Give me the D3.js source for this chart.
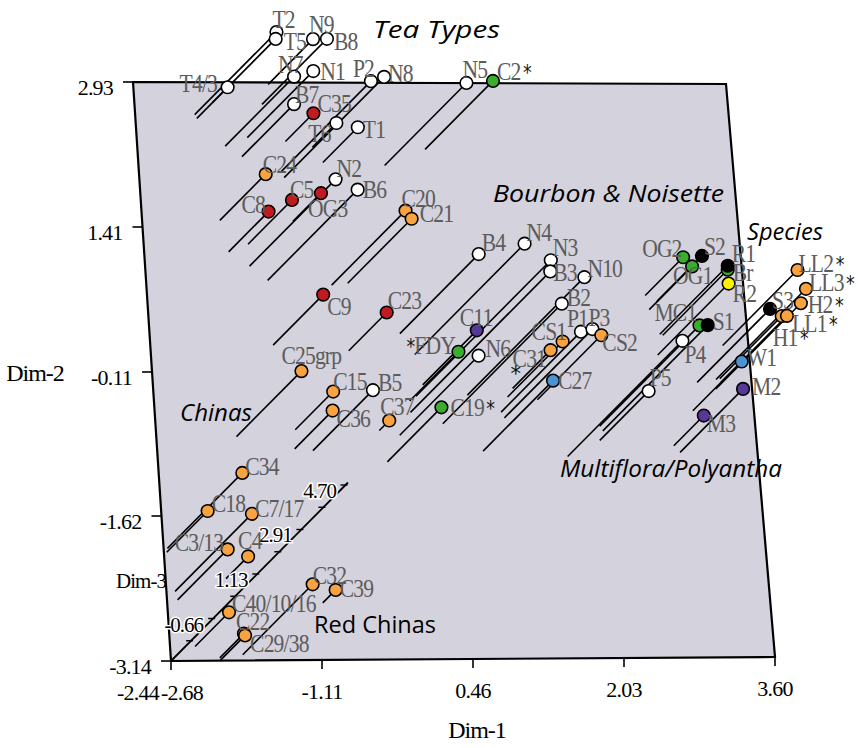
<!DOCTYPE html>
<html><head><meta charset="utf-8">
<script src="https://cdn.jsdelivr.net/npm/d3@7"></script>
<style>body{margin:0;background:#fff}</style>
</head><body><svg id="c" width="858" height="748"></svg>
<script>
// ---------------- data ----------------
const names = ["T2","T5","T4/3","N9","B8","N7","N1","P2","N8","N5","C2*","B7","C35","T6","T1",
 "C24","N2","B6","C5","OG3","C8","C20","C21","C9","C23","C25grp","C15","C36","B5","C37",
 "B4","N4","N3","B3","N10","B2","P1","P3","CS2","CS1","C31","C27","C11","*FDY","N6","C19*",
 "OG2","OG1","S2","Br","R1","R2","MC1","S1","P4","P5","S3","LL2*","LL3*","H2*","H1*","LL1*","W1","M2","M3",
 "C34","C18","C7/17","C3/13","C4","C32","C39","C40/10/16","C22","C29/38"];
const dim1 = [-2.05,-2.03,-1.85,-1.25,-1.33,-1.75,-1.51,-1.18,-1.15,-0.08,0.36,-1.58,-1.11,-0.83,-0.73,
 -1.86,-1.58,-1.40,-1.58,-1.09,-1.79,-0.73,-0.56,-1.39,-0.60,-1.84,-1.22,-1.24,-1.05,-0.34,
 -0.05,0.09,0.07,0.00,0.61,0.33,0.95,0.98,1.34,1.03,1.09,0.73,0.15,0.00,-0.13,-0.28,
 2.56,2.59,2.68,2.71,2.68,2.64,1.97,2.00,1.61,1.96,3.03,3.33,3.23,3.22,3.27,3.28,2.96,2.79,2.73,
 -2.64,-2.65,-2.59,-2.57,-2.05,-1.93,-1.06,-2.42,-2.17,-2.17];
const dim2 = [2.59,2.55,2.72,2.91,2.70,2.26,2.35,1.99,1.93,2.06,2.23,2.15,2.31,2.25,2.09,
 1.48,1.00,0.85,1.23,1.47,1.15,0.80,0.82,0.17,0.11,-0.79,-0.72,-0.92,-0.94,-0.73,
 0.29,0.07,-0.37,-0.54,-0.36,-0.66,-0.54,-0.60,-0.41,-0.38,-0.29,-0.95,-0.25,-0.42,-0.78,-1.06,
 0.69,0.54,0.63,0.27,0.28,0.06,-0.69,-0.74,-1.01,-0.84,-0.23,0.16,-0.20,-0.30,-0.19,-0.23,-0.53,-0.97,-0.90,
 -1.96,-2.00,-2.41,-2.50,-2.28,-3.08,-2.54,-2.99,-3.11,-3.14];
const dim3 = [0.86,0.74,-1.84,-0.63,0.18,0.34,0.22,1.19,1.59,0.86,0.30,-0.34,-1.31,-1.47,-1.03,
 -0.59,1.03,1.19,-0.67,-1.31,-0.83,0.54,0.14,-0.42,-0.91,0.18,-0.91,-0.91,-0.02,-2.04,
 0.74,1.99,3.00,3.20,2.28,2.36,0.78,1.11,0.14,-0.22,-0.91,0.38,-0.26,-0.47,0.74,-0.26,
 -0.91,-0.71,-0.63,0.18,0.30,0.42,1.59,1.79,2.19,-0.47,0.50,0.58,1.19,0.99,0.06,0.22,-0.47,0.10,-1.23,
 0.58,-0.79,0.66,-0.42,-1.55,0.38,-1.92,-1.07,-1.47,-1.43];
const kinds = ["w","w","w","w","w","w","w","w","w","w","g","w","r","w","w",
 "o","w","w","r","r","r","o","o","r","r","o","o","o","w","o",
 "w","w","w","w","w","w","w","w","o","o","o","b","p","g","w","g",
 "g","g","k","g","k","y","g","k","w","w","k","o","o","o","o","o","b","p","p",
 "o","o","o","o","o","o","o","o","o","o"];
const dim1Ticks = [-2.68,-1.11,0.46,2.03,3.60];
const dim2Ticks = [-3.14,-1.62,-0.11,1.41,2.93];
const dim3Ticks = [-2.44,-0.66,1.13,2.91,4.70];
const groupLabels = ["Tea Types","Bourbon & Noisette","Species","Chinas","Multiflora/Polyantha","Red Chinas"];

// ---------------- layout / style ----------------
const colors = {w:"#ffffff",g:"#3aad2e",r:"#c11b22",o:"#f8a33f",b:"#4c93d3",p:"#56389b",k:"#000000",y:"#fff200"};
const corner = {BL:[171,661],BR:[775,657],TL:[133,82],TR:[726,84]};
const depthVec = [177,-178.5];
const labelAt = {
"T2":[-4,-4],"T5":[8,11],"N9":[-4,-6],"B8":[7,11],"N7":[-16,-4],"N1":[7,9],"T4/3":[-48,5],"P2":[-18,-4],"N8":[4,5],"N5":[-4,-5],"C2*":[4,-1],"B7":[1,-1],"C35":[4,-1],"T6":[-28,19],"T1":[5,11],
"C24":[-3,-1],"N2":[1,-2],"B6":[5,8],"C5":[-2,-2],"OG3":[-13,24],"C8":[-27,1],"C20":[-4,-4],"C21":[8,3],"C9":[4,20],"C23":[1,-3],"C25grp":[-20,-7],"C15":[0,-2],"B5":[5,1],"C36":[4,16],"C37":[-9,-6],
"B4":[3,-3],"N4":[2,-3],"N3":[2,-4],"B3":[3,10],"N10":[3,0],"B2":[5,2],"P1":[-14,-5],"P3":[-4,-3],"CS2":[1,16],"CS1":[-31,-1],"C31":[-38,17],"C27":[5,8],"C11":[-17,-4],"*FDY":[-52,2],"N6":[7,1],"C19*":[9,9],
"OG2":[-41,0],"S2":[2,-1],"OG1":[-19,18],"R1":[4,-4],"Br":[5,11],"R2":[4,18],"MC1":[-45,-4],"S1":[5,5],"P4":[2,22],"P5":[1,-5],"S3":[2,0],"LL2*":[1,2],"LL3*":[3,2],"H2*":[7,10],"LL1*":[5,16],"H1*":[-9,30],"W1":[5,4],"M2":[9,6],"M3":[3,16],
"C34":[3,2],"C18":[4,1],"C7/17":[3,3],"C3/13":[-53,2],"C4":[-10,-7],"C32":[0,0],"C39":[4,7],"C40/10/16":[3,0],"C22":[-8,-4],"C29/38":[5,17]};
const groupPos = [[373,38,127,true],[493,202,231,true],[747,240,76,true],[180,421,72,true],[560,477,222,true],[314,633,122,false]];

const svg = d3.select("#c");
const u = d3.scaleLinear().domain([-2.68,3.60]).range([0,1]);
const v = d3.scaleLinear().domain([-3.14,2.93]).range([0,1]);
const w = d3.scaleLinear().domain([-2.44,4.70]).range([0,1]);
function proj(a,b,c){
  const U=u(a),V=v(b),W=w(c);
  const bx=corner.BL[0]+(corner.BR[0]-corner.BL[0])*U, by=corner.BL[1]+(corner.BR[1]-corner.BL[1])*U;
  const tx=corner.TL[0]+(corner.TR[0]-corner.TL[0])*U, ty=corner.TL[1]+(corner.TR[1]-corner.TL[1])*U;
  return [bx+(tx-bx)*V+depthVec[0]*W, by+(ty-by)*V+depthVec[1]*W];
}
const z0 = dim3Ticks[0];
const serif = "Liberation Serif";

// plane
const plane = [proj(-2.68,-3.14,z0),proj(3.60,-3.14,z0),proj(3.60,2.93,z0),proj(-2.68,2.93,z0)];
svg.append("polygon").attr("points",plane.map(p=>p.join(",")).join(" "))
  .attr("fill","#d4d2dc").attr("stroke","#000").attr("stroke-width",2.2).attr("stroke-linejoin","miter");

// dim-1 ticks
dim1Ticks.forEach(t=>{
  const p=proj(t,-3.14,z0);
  svg.append("line").attr("x1",p[0]).attr("y1",p[1]-(t===-2.68?4:0)).attr("x2",p[0]).attr("y2",p[1]+9).attr("stroke","#000").attr("stroke-width",1.6);
  svg.append("text").attr("x",p[0]+(t===-2.68?11:0)).attr("y",p[1]+39).attr("text-anchor","middle")
    .attr("font-family",serif).attr("font-size",22).attr("letter-spacing",-0.8).text(t.toFixed(2));
});
svg.append("text").attr("x",138).attr("y",700).attr("text-anchor","middle")
  .attr("font-family",serif).attr("font-size",22).attr("letter-spacing",-0.8).text(dim3Ticks[0].toFixed(2));
// dim-2 ticks
dim2Ticks.forEach(t=>{
  const p=proj(-2.68,t,z0);
  svg.append("line").attr("x1",p[0]-10).attr("y1",p[1]).attr("x2",p[0]+(t===-3.14?4:0)).attr("y2",p[1]).attr("stroke","#000").attr("stroke-width",1.6);
  svg.append("text").attr("x",p[0]-20).attr("y",p[1]+13).attr("text-anchor","end")
    .attr("font-family",serif).attr("font-size",22).attr("letter-spacing",-0.8).text(t.toFixed(2));
});

// drop lines
const idx = d3.range(names.length);
svg.append("g").selectAll("line").data(idx).join("line")
  .attr("x1",i=>proj(dim1[i],dim2[i],dim3[i])[0]).attr("y1",i=>proj(dim1[i],dim2[i],dim3[i])[1])
  .attr("x2",i=>proj(dim1[i],dim2[i],z0)[0]).attr("y2",i=>proj(dim1[i],dim2[i],z0)[1])
  .attr("stroke","#000").attr("stroke-width",1.6);

// dim-3 axis
const a0=proj(-2.68,-3.14,dim3Ticks[0]), a1=proj(-2.68,-3.14,dim3Ticks[4]);
svg.append("line").attr("x1",a0[0]).attr("y1",a0[1]).attr("x2",a1[0]).attr("y2",a1[1]).attr("stroke","#000").attr("stroke-width",1.8);
const step=(dim3Ticks[1]-dim3Ticks[0])/2;
d3.range(1,9).forEach(k=>{
  const p=proj(-2.68,-3.14,dim3Ticks[0]+k*step);
  svg.append("line").attr("x1",p[0]-7).attr("y1",p[1]+2).attr("x2",p[0]).attr("y2",p[1]+2).attr("stroke","#000").attr("stroke-width",1.4);
});
dim3Ticks.slice(1).forEach(t=>{
  const p=proj(-2.68,-3.14,t);
  svg.append("text").attr("x",p[0]-12).attr("y",p[1]+15).attr("text-anchor","end")
   .attr("font-family",serif).attr("font-size",21).attr("letter-spacing",-1)
   .attr("paint-order","stroke").attr("stroke","#fff").attr("stroke-width",3).text(t.toFixed(2));
});

// axis titles
svg.append("text").attr("x",477).attr("y",738).attr("text-anchor","middle").attr("font-family",serif).attr("font-size",24).attr("letter-spacing",-1).text("Dim-1");
svg.append("text").attr("x",35).attr("y",381).attr("text-anchor","middle").attr("font-family",serif).attr("font-size",24).attr("letter-spacing",-1).text("Dim-2");
svg.append("text").attr("x",141).attr("y",588).attr("text-anchor","middle").attr("font-family",serif).attr("font-size",21).attr("letter-spacing",-1).text("Dim-3");

// markers
svg.append("g").selectAll("circle").data(idx).join("circle")
  .attr("cx",i=>proj(dim1[i],dim2[i],dim3[i])[0]).attr("cy",i=>proj(dim1[i],dim2[i],dim3[i])[1])
  .attr("r",6.3).attr("fill",i=>colors[kinds[i]]).attr("stroke","#000").attr("stroke-width",1.6);

// point labels
const lg = svg.append("g");
idx.forEach(i=>{
  const p=proj(dim1[i],dim2[i],dim3[i]); const o=labelAt[names[i]]||[4,0];
  const t=lg.append("text").attr("transform",`translate(${p[0]+o[0]},${p[1]+o[1]}) scale(0.83,1)`)
    .attr("font-family",serif).attr("font-size",26).attr("fill","#5c5c5c").attr("letter-spacing",-1);
  const nm=names[i];
  if(nm.startsWith("*")){ t.append("tspan").attr("fill","#111").attr("font-family","DejaVu Sans").attr("font-size",21).text("*"); t.append("tspan").text(nm.slice(1)); }
  else if(nm.endsWith("*")){ t.append("tspan").text(nm.slice(0,-1)); t.append("tspan").attr("fill","#111").attr("font-family","DejaVu Sans").attr("font-size",21).attr("dx",3).text("*"); }
  else t.text(nm);
});
// stray asterisk near C31
{ const i=names.indexOf("C31"); const p=proj(dim1[i],dim2[i],dim3[i]);
  svg.append("text").attr("x",p[0]-40).attr("y",p[1]+31).attr("font-family","DejaVu Sans").attr("font-size",21).attr("fill","#111").text("*"); }

// group labels
groupLabels.forEach((g,k)=>{
  const gp=groupPos[k];
  svg.append("text").attr("x",gp[0]).attr("y",gp[1]).attr("font-family","Open Sans").attr("font-style",gp[3]?"italic":"normal")
    .attr("font-size",23).attr("textLength",gp[2]).attr("lengthAdjust","spacingAndGlyphs").attr("fill","#000").text(g);
});
</script></body></html>
